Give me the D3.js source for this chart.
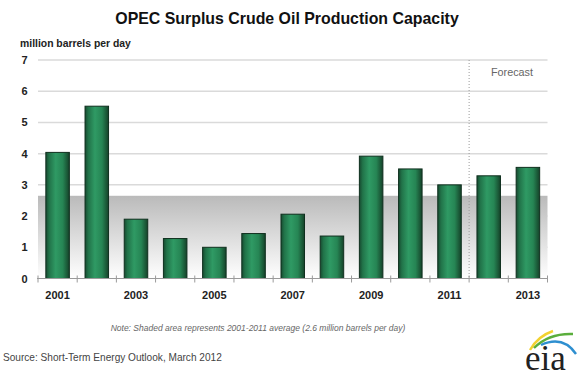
<!DOCTYPE html>
<html>
<head>
<meta charset="utf-8">
<script src="https://cdn.jsdelivr.net/npm/d3@7"></script>
<style>
  html, body { margin: 0; padding: 0; background: #fff; }
  svg { display: block; font-family: "Liberation Sans", Arial, sans-serif; }
</style>
</head>
<body>
<svg id="chart" width="580" height="382"></svg>
<script>
// ---- data ----
const years = ["2001","2002","2003","2004","2005","2006","2007","2008","2009","2010","2011","2012","2013"];
const capacity = [4.04, 5.52, 1.90, 1.28, 1.00, 1.44, 2.06, 1.36, 3.92, 3.51, 3.00, 3.29, 3.56];
const yTicks = [0, 1, 2, 3, 4, 5, 6, 7];
const xLabelYears = ["2001","2003","2005","2007","2009","2011","2013"];
const averageValue = 2.65;
const forecastStart = "2012";

const titleText = "OPEC Surplus Crude Oil Production Capacity";
const unitText = "million barrels per day";
const noteText = "Note: Shaded area represents 2001-2011 average (2.6 million barrels per day)";
const sourceText = "Source: Short-Term Energy Outlook, March 2012";

// ---- layout ----
const svg = d3.select("#chart");
const plot = { left: 38, right: 547.5, top: 60, bottom: 278.5 };

const x = d3.scaleBand().domain(years).range([plot.left, plot.right]).padding(0);
const y = d3.scaleLinear().domain([0, 7]).range([plot.bottom, plot.top]);

const defs = svg.append("defs");
const shadeGrad = defs.append("linearGradient").attr("id", "shade")
  .attr("x1", 0).attr("y1", 0).attr("x2", 0).attr("y2", 1);
shadeGrad.append("stop").attr("offset", "0%").attr("stop-color", "#bababa");
shadeGrad.append("stop").attr("offset", "100%").attr("stop-color", "#ffffff");

const barGrad = defs.append("linearGradient").attr("id", "bar")
  .attr("x1", 0).attr("y1", 0).attr("x2", 1).attr("y2", 0);
[["0%", "#174a30"], ["14%", "#217349"], ["42%", "#2f9a64"], ["72%", "#268554"], ["100%", "#154229"]]
  .forEach(([o, c]) => barGrad.append("stop").attr("offset", o).attr("stop-color", c));

// title
svg.append("text").attr("x", 287).attr("y", 24).attr("text-anchor", "middle")
  .attr("font-size", 15.9).attr("font-weight", "bold").attr("fill", "#111").text(titleText);
svg.append("text").attr("x", 20).attr("y", 46.5)
  .attr("font-size", 10.4).attr("font-weight", "bold").attr("fill", "#222").text(unitText);

// gridlines
svg.append("g").selectAll("line").data(yTicks.filter(d => d > 0)).join("line")
  .attr("x1", plot.left).attr("x2", plot.right)
  .attr("y1", d => y(d)).attr("y2", d => y(d))
  .attr("stroke", "#dadada").attr("stroke-width", 1.5);

// shaded average
svg.append("rect").attr("x", plot.left).attr("width", plot.right - plot.left)
  .attr("y", y(averageValue)).attr("height", y(0) - y(averageValue))
  .attr("fill", "url(#shade)");

// y labels
svg.append("g").selectAll("text").data(yTicks).join("text")
  .attr("x", 27.5).attr("y", d => y(d) + 4).attr("text-anchor", "end")
  .attr("font-size", 11).attr("font-weight", "bold").attr("fill", "#222").text(d => d);

// forecast divider
const fx = x(forecastStart);
svg.append("line").attr("x1", fx).attr("x2", fx).attr("y1", plot.top).attr("y2", plot.bottom)
  .attr("stroke", "#9a9a9a").attr("stroke-width", 1).attr("stroke-dasharray", "1,2");
svg.append("text").attr("x", 512).attr("y", 76).attr("text-anchor", "middle")
  .attr("font-size", 10.8).attr("fill", "#666").text("Forecast");

// bars
const bw = x.bandwidth() * 0.6;
svg.append("g").selectAll("rect").data(years).join("rect")
  .attr("x", (d) => x(d) + (x.bandwidth() - bw) / 2)
  .attr("width", bw)
  .attr("y", (d, i) => y(capacity[i]))
  .attr("height", (d, i) => y(0) - y(capacity[i]))
  .attr("fill", "url(#bar)")
  .attr("stroke", "#0f2f1e").attr("stroke-width", 1);

// x axis
const axis = svg.append("g");
axis.append("line").attr("x1", plot.left - 1).attr("x2", plot.right)
  .attr("y1", plot.bottom).attr("y2", plot.bottom).attr("stroke", "#9a9a9a").attr("stroke-width", 1.2);
const boundaries = years.map(d => x(d)).concat([plot.right]);
axis.selectAll("line.tick").data(boundaries).join("line").attr("class", "tick")
  .attr("x1", d => d).attr("x2", d => d).attr("y1", plot.bottom - 3).attr("y2", plot.bottom + 4)
  .attr("stroke", "#9a9a9a").attr("stroke-width", 1);
axis.selectAll("text").data(xLabelYears).join("text")
  .attr("x", d => x(d) + x.bandwidth() / 2).attr("y", 298.5).attr("text-anchor", "middle")
  .attr("font-size", 11).attr("font-weight", "bold").attr("fill", "#222").text(d => d);

// note + source
svg.append("text").attr("x", 258).attr("y", 330.5).attr("text-anchor", "middle")
  .attr("font-size", 8.5).attr("font-style", "italic").attr("fill", "#666").text(noteText);
svg.append("text").attr("x", 3).attr("y", 360.5)
  .attr("font-size", 10.1).attr("fill", "#444").text(sourceText);

// eia logo
const logo = svg.append("g");
logo.append("path").attr("d", "M530,350 Q538,336 553,331").attr("fill", "none")
  .attr("stroke", "#f2d230").attr("stroke-width", 2.4);
logo.append("path").attr("d", "M534,348 Q549,333 573,334").attr("fill", "none")
  .attr("stroke", "#5aae3c").attr("stroke-width", 2.4);
logo.append("path").attr("d", "M541,345 Q563,335 576,354").attr("fill", "none")
  .attr("stroke", "#2e8fd0").attr("stroke-width", 2.4);
logo.append("text").attr("x", 525).attr("y", 370)
  .attr("font-family", "'Liberation Serif', 'DejaVu Serif', serif")
  .attr("font-size", 35).attr("fill", "#222").text("eia");
</script>
</body>
</html>
